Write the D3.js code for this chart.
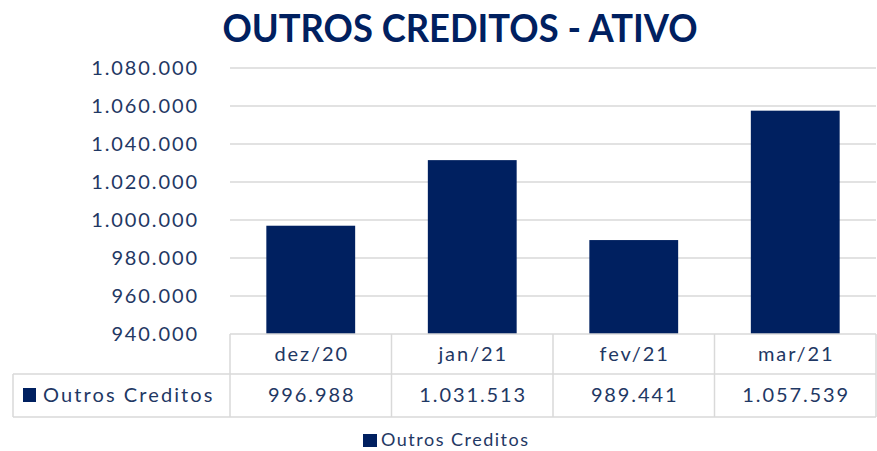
<!DOCTYPE html>
<html>
<head>
<meta charset="utf-8">
<script src="https://cdn.jsdelivr.net/npm/d3@7"></script>
<style>
  body { margin: 0; background: #fff; }
  text { font-family: Lato, "Open Sans", sans-serif; }
</style>
</head>
<body>
<div id="chart"></div>
<script>
// chart data
const categories = ["dez/20", "jan/21", "fev/21", "mar/21"];
const seriesName = "Outros Creditos";
const values = [996988, 1031513, 989441, 1057539];
const yTicks = [940000, 960000, 980000, 1000000, 1020000, 1040000, 1060000, 1080000];

const W = 877, H = 451;
const navy = "#002060", textCol = "#1f3864", lineCol = "#d9d9d9";
const fs = 20, ls = 1.9;

// pt-BR number format
const ptBR = d3.formatLocale({ decimal: ",", thousands: ".", grouping: [3], currency: ["R$", ""] });
const fmt = ptBR.format(",.0f");

const svg = d3.select("#chart").append("svg")
    .attr("width", W)
    .attr("height", H);

// scales
const x = d3.scaleBand()
    .domain(categories)
    .range([230, 876])
    .paddingInner(0.45)
    .paddingOuter(0.225);

const y = d3.scaleLinear()
    .domain([940000, 1080000])
    .range([334, 68]);

// title
svg.append("text")
    .attr("x", 460)
    .attr("y", 42)
    .attr("text-anchor", "middle")
    .attr("fill", navy)
    .attr("font-weight", "bold")
    .attr("font-size", 38)
    .attr("textLength", 475)
    .attr("lengthAdjust", "spacingAndGlyphs")
    .text("OUTROS CREDITOS - ATIVO");

// gridlines
svg.append("g")
    .selectAll("line")
    .data(yTicks.slice(1))
    .join("line")
    .attr("x1", 230).attr("x2", 876)
    .attr("y1", d => y(d)).attr("y2", d => y(d))
    .attr("stroke", lineCol)
    .attr("stroke-width", 1.5);

// y axis
const yAxis = svg.append("g")
    .attr("transform", "translate(199,0)")
    .call(d3.axisLeft(y).tickValues(yTicks).tickFormat(fmt).tickSize(0).tickPadding(0));
yAxis.select(".domain").remove();
yAxis.selectAll("text")
    .attr("fill", textCol)
    .attr("font-size", fs)
    .attr("letter-spacing", ls);

// bars
svg.append("g")
    .selectAll("rect")
    .data(values)
    .join("rect")
    .attr("x", (d, i) => x(categories[i]))
    .attr("y", d => y(d))
    .attr("width", x.bandwidth())
    .attr("height", d => y(940000) - y(d))
    .attr("fill", navy);

// data table
const step = x.step();
const rowTop = y(940000), rowMid = 374, rowBot = 417;
const table = svg.append("g").attr("stroke", lineCol).attr("stroke-width", 1.5);
table.append("line").attr("x1", 230).attr("x2", 876).attr("y1", rowTop).attr("y2", rowTop);
table.append("line").attr("x1", 13).attr("x2", 876).attr("y1", rowMid).attr("y2", rowMid);
table.append("line").attr("x1", 13).attr("x2", 876).attr("y1", rowBot).attr("y2", rowBot);
table.append("line").attr("x1", 13).attr("x2", 13).attr("y1", rowMid).attr("y2", rowBot);
table.selectAll(".vdiv")
    .data(d3.range(categories.length + 1))
    .join("line")
    .attr("x1", i => 230 + i * step).attr("x2", i => 230 + i * step)
    .attr("y1", rowTop).attr("y2", rowBot);

// category row
svg.append("g")
    .selectAll("text")
    .data(categories)
    .join("text")
    .attr("x", d => x(d) + x.bandwidth() / 2 + ls / 2)
    .attr("y", 361)
    .attr("text-anchor", "middle")
    .attr("fill", textCol)
    .attr("font-size", fs)
    .attr("letter-spacing", ls)
    .text(d => d);

// values row
svg.append("g")
    .selectAll("text")
    .data(values)
    .join("text")
    .attr("x", (d, i) => x(categories[i]) + x.bandwidth() / 2 + ls / 2)
    .attr("y", 402)
    .attr("text-anchor", "middle")
    .attr("fill", textCol)
    .attr("font-size", fs)
    .attr("letter-spacing", ls)
    .text(d => fmt(d));

// series label in table
svg.append("rect")
    .attr("x", 23).attr("y", 388)
    .attr("width", 13).attr("height", 14)
    .attr("fill", navy);
svg.append("text")
    .attr("x", 43)
    .attr("y", 402)
    .attr("fill", textCol)
    .attr("font-size", fs)
    .attr("letter-spacing", 2.1)
    .text(seriesName);

// legend
svg.append("rect")
    .attr("x", 363).attr("y", 434)
    .attr("width", 14).attr("height", 13)
    .attr("fill", navy);
svg.append("text")
    .attr("x", 381)
    .attr("y", 446)
    .attr("fill", textCol)
    .attr("font-size", 18)
    .attr("letter-spacing", 1.5)
    .text(seriesName);
</script>
</body>
</html>
